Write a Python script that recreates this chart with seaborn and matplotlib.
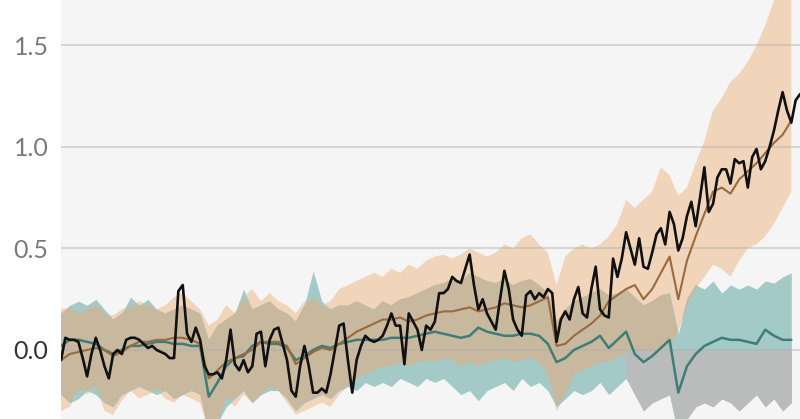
import numpy as np
import pandas as pd
import matplotlib
matplotlib.use("Agg")
import matplotlib.pyplot as plt
import seaborn as sns

sns.set_theme(style="whitegrid")
plt.rcParams['font.family'] = ['Lato', 'DejaVu Sans']

# observed annual anomaly (black)
obs_years = np.arange(1850, 2021)
observed = [
    -0.05, 0.06, 0.05, 0.05, 0.04, -0.04, -0.13, -0.02, 0.06, 0.00,
    -0.08, -0.14, -0.02, 0.00, -0.02, 0.05, 0.06, 0.06, 0.05, 0.03,
    0.01, 0.02, 0.00, -0.01, -0.02, -0.04, -0.04, 0.29, 0.32, 0.08,
    0.04, 0.11, 0.05, -0.08, -0.12, -0.12, -0.11, -0.14, -0.05, 0.10,
    -0.07, -0.10, -0.05, -0.11, -0.08, 0.08, 0.09, -0.08, 0.05, 0.10,
    0.11, 0.03, -0.05, -0.20, -0.23, -0.08, 0.02, -0.08, -0.21, -0.21,
    -0.19, -0.21, -0.12, 0.00, 0.12, 0.13, -0.05, -0.21, -0.05, 0.02,
    0.07, 0.05, 0.04, 0.05, 0.07, 0.12, 0.18, 0.12, 0.12, -0.07,
    0.18, 0.14, 0.10, 0.00, 0.12, 0.10, 0.14, 0.28, 0.28, 0.30,
    0.36, 0.34, 0.33, 0.40, 0.47, 0.32, 0.20, 0.25, 0.18, 0.14,
    0.10, 0.25, 0.39, 0.30, 0.15, 0.10, 0.07, 0.27, 0.29, 0.25,
    0.28, 0.26, 0.30, 0.28, 0.04, 0.15, 0.19, 0.15, 0.25, 0.31,
    0.18, 0.16, 0.30, 0.41, 0.20, 0.17, 0.16, 0.45, 0.36, 0.45,
    0.58, 0.50, 0.42, 0.55, 0.41, 0.40, 0.48, 0.57, 0.60, 0.52,
    0.68, 0.62, 0.49, 0.55, 0.66, 0.73, 0.61, 0.75, 0.90, 0.68,
    0.72, 0.85, 0.89, 0.89, 0.82, 0.94, 0.92, 0.93, 0.80, 0.95,
    0.99, 0.89, 0.93, 1.00, 1.08, 1.18, 1.27, 1.18, 1.12, 1.23,
    1.26,
]

# simulated series, every second year
model_years = np.arange(1850, 2019, 2)

# human + natural: mean and range (tan)
hn_mean = [
    -0.05, -0.02, -0.01, 0.00, 0.01, 0.00, -0.03, -0.01, 0.02, 0.04,
    0.04, 0.05, 0.05, 0.06, 0.06, 0.05, 0.03, -0.14, -0.10, -0.06,
    -0.04, -0.02, 0.00, 0.04, 0.04, 0.04, 0.02, -0.07, -0.04, -0.01,
    0.01, 0.00, 0.03, 0.06, 0.09, 0.11, 0.13, 0.15, 0.15, 0.16,
    0.14, 0.15, 0.17, 0.18, 0.19, 0.19, 0.20, 0.21, 0.19, 0.20,
    0.21, 0.23, 0.22, 0.21, 0.22, 0.24, 0.26, 0.02, 0.03, 0.07,
    0.10, 0.13, 0.17, 0.24, 0.27, 0.30, 0.32, 0.25, 0.30, 0.38,
    0.46, 0.25, 0.44, 0.56, 0.67, 0.78, 0.80, 0.77, 0.84, 0.88,
    0.92, 0.97, 1.02, 1.06, 1.13,
]
hn_hi = [
    0.20, 0.21, 0.18, 0.20, 0.22, 0.18, 0.17, 0.20, 0.22, 0.24,
    0.22, 0.20, 0.22, 0.26, 0.28, 0.24, 0.20, 0.12, 0.15, 0.22,
    0.18, 0.26, 0.30, 0.24, 0.28, 0.24, 0.22, 0.18, 0.24, 0.26,
    0.22, 0.24, 0.30, 0.32, 0.34, 0.36, 0.38, 0.36, 0.40, 0.38,
    0.42, 0.40, 0.44, 0.46, 0.47, 0.45, 0.47, 0.50, 0.48, 0.46,
    0.48, 0.52, 0.50, 0.55, 0.57, 0.52, 0.48, 0.32, 0.46, 0.50,
    0.52, 0.50, 0.52, 0.56, 0.62, 0.74, 0.70, 0.74, 0.78, 0.90,
    0.86, 0.76, 0.80, 0.92, 1.03, 1.18, 1.24, 1.32, 1.36, 1.42,
    1.50, 1.60, 1.72, 1.85, 1.95,
]
hn_lo = [
    -0.30, -0.28, -0.20, -0.22, -0.18, -0.30, -0.32, -0.25, -0.20, -0.24,
    -0.22, -0.20, -0.24, -0.26, -0.22, -0.24, -0.26, -0.40, -0.38, -0.24,
    -0.28, -0.22, -0.26, -0.22, -0.18, -0.20, -0.26, -0.32, -0.30, -0.28,
    -0.26, -0.28, -0.22, -0.18, -0.14, -0.12, -0.10, -0.08, -0.08, -0.06,
    -0.08, -0.06, -0.05, -0.06, -0.04, -0.05, -0.08, -0.06, -0.08, -0.06,
    -0.05, -0.04, -0.06, -0.05, -0.04, -0.06, -0.12, -0.30, -0.22, -0.12,
    -0.10, -0.08, -0.06, -0.06, -0.04, -0.02, -0.02, -0.02, -0.01, 0.00,
    0.02, 0.09, 0.22, 0.30, 0.36, 0.42, 0.40, 0.36, 0.44, 0.50,
    0.52, 0.56, 0.62, 0.70, 0.78,
]

# natural only: mean and range (teal)
nat_mean = [
    0.02, 0.05, 0.05, 0.04, 0.03, 0.00, -0.02, 0.00, 0.02, 0.02,
    0.03, 0.04, 0.04, 0.03, 0.03, 0.02, 0.02, -0.23, -0.16, -0.08,
    -0.04, -0.03, 0.02, 0.04, 0.03, 0.03, 0.01, -0.05, -0.03, 0.00,
    0.02, 0.01, 0.03, 0.04, 0.05, 0.05, 0.05, 0.05, 0.06, 0.06,
    0.06, 0.07, 0.08, 0.09, 0.08, 0.07, 0.06, 0.07, 0.11, 0.09,
    0.08, 0.07, 0.07, 0.08, 0.08, 0.07, 0.03, -0.06, -0.04, 0.00,
    0.02, 0.04, 0.07, 0.01, 0.05, 0.09, -0.02, -0.06, -0.03, 0.01,
    0.05, -0.21, -0.08, -0.02, 0.02, 0.04, 0.06, 0.05, 0.05, 0.04,
    0.03, 0.10, 0.07, 0.05, 0.05,
]
nat_hi = [
    0.18, 0.22, 0.24, 0.22, 0.25, 0.20, 0.15, 0.18, 0.26, 0.22,
    0.25, 0.20, 0.18, 0.20, 0.22, 0.20, 0.18, 0.05, 0.12, 0.15,
    0.18, 0.30, 0.20, 0.22, 0.24, 0.20, 0.18, 0.14, 0.22, 0.39,
    0.24, 0.20, 0.22, 0.22, 0.24, 0.22, 0.20, 0.24, 0.22, 0.25,
    0.26, 0.28, 0.30, 0.32, 0.33, 0.35, 0.34, 0.38, 0.36, 0.34,
    0.33, 0.35, 0.32, 0.34, 0.35, 0.32, 0.28, 0.14, 0.20, 0.24,
    0.26, 0.28, 0.30, 0.27, 0.28, 0.30, 0.26, 0.22, 0.24, 0.27,
    0.28, 0.08, 0.25, 0.32, 0.30, 0.34, 0.28, 0.32, 0.30, 0.32,
    0.30, 0.34, 0.33, 0.36, 0.38,
]
nat_lo = [
    -0.22, -0.26, -0.24, -0.20, -0.22, -0.26, -0.28, -0.22, -0.20, -0.18,
    -0.20, -0.22, -0.20, -0.24, -0.22, -0.20, -0.22, -0.42, -0.36, -0.28,
    -0.24, -0.20, -0.26, -0.22, -0.20, -0.20, -0.24, -0.30, -0.26, -0.24,
    -0.22, -0.24, -0.20, -0.18, -0.20, -0.16, -0.18, -0.16, -0.18, -0.14,
    -0.16, -0.18, -0.14, -0.16, -0.14, -0.18, -0.22, -0.20, -0.25, -0.20,
    -0.18, -0.16, -0.20, -0.14, -0.18, -0.16, -0.20, -0.28, -0.24, -0.20,
    -0.22, -0.20, -0.16, -0.22, -0.18, -0.14, -0.22, -0.30, -0.26, -0.24,
    -0.22, -0.42, -0.34, -0.28, -0.26, -0.28, -0.24, -0.26, -0.30, -0.26,
    -0.22, -0.28, -0.24, -0.30, -0.26,
]

ytick_vals = [0.0, 0.5, 1.0, 1.5]
ytick_labels = ["0.0", "0.5", "1.0", "1.5"]

hn_lo = np.array(hn_lo)
hn_hi = np.array(hn_hi)
nat_lo = np.array(nat_lo)
nat_hi = np.array(nat_hi)

fig = plt.figure(figsize=(8, 4.19), dpi=100)
ax = fig.add_axes([61 / 800, 0, 1 - 61 / 800, 1])
ax.set_facecolor("#f5f5f5")

# ranges
ax.fill_between(model_years, hn_lo, hn_hi, color="#f1d5ba", lw=0, zorder=1)
ax.fill_between(model_years, nat_lo, nat_hi, color="#a3cac7", lw=0, zorder=1.1)
ov_lo = np.maximum(hn_lo, nat_lo)
ov_hi = np.minimum(hn_hi, nat_hi)
ax.fill_between(model_years, ov_lo, ov_hi, where=ov_hi > ov_lo, interpolate=True,
                color="#c8b89e", lw=0, zorder=1.2)
late = model_years >= 1980
ax.fill_between(model_years, nat_lo, np.minimum(nat_hi, 0), where=late,
                color="#babcbc", lw=0, zorder=1.3)

# mean lines and observations
sns.lineplot(x=model_years, y=nat_mean, color="#3e7e76", lw=1.8, ax=ax, zorder=4)
sns.lineplot(x=model_years, y=hn_mean, color="#9a6a3c", lw=1.5, ax=ax, zorder=4)
sns.lineplot(x=obs_years, y=observed, color="#111111", lw=1.9, ax=ax, zorder=5)

ax.set_xlim(1850, 2020)
ax.set_ylim(-0.34, 1.724)
ax.set_xticks([])
ax.set_yticks(ytick_vals)
ax.set_yticklabels(ytick_labels)
ax.set_xlabel("")
ax.set_ylabel("")
ax.set_axisbelow(False)
ax.grid(axis="y", color="#b0b0b0", alpha=0.45, lw=1.4)
ax.grid(axis="x", visible=False)
for s in ax.spines.values():
    s.set_visible(False)
ax.tick_params(axis="y", length=0, pad=9, labelsize=18, labelcolor="#7a7a7a")
ax.get_yticklabels()[0].set_color("#333333")

fig.savefig("out.png", dpi=100)
